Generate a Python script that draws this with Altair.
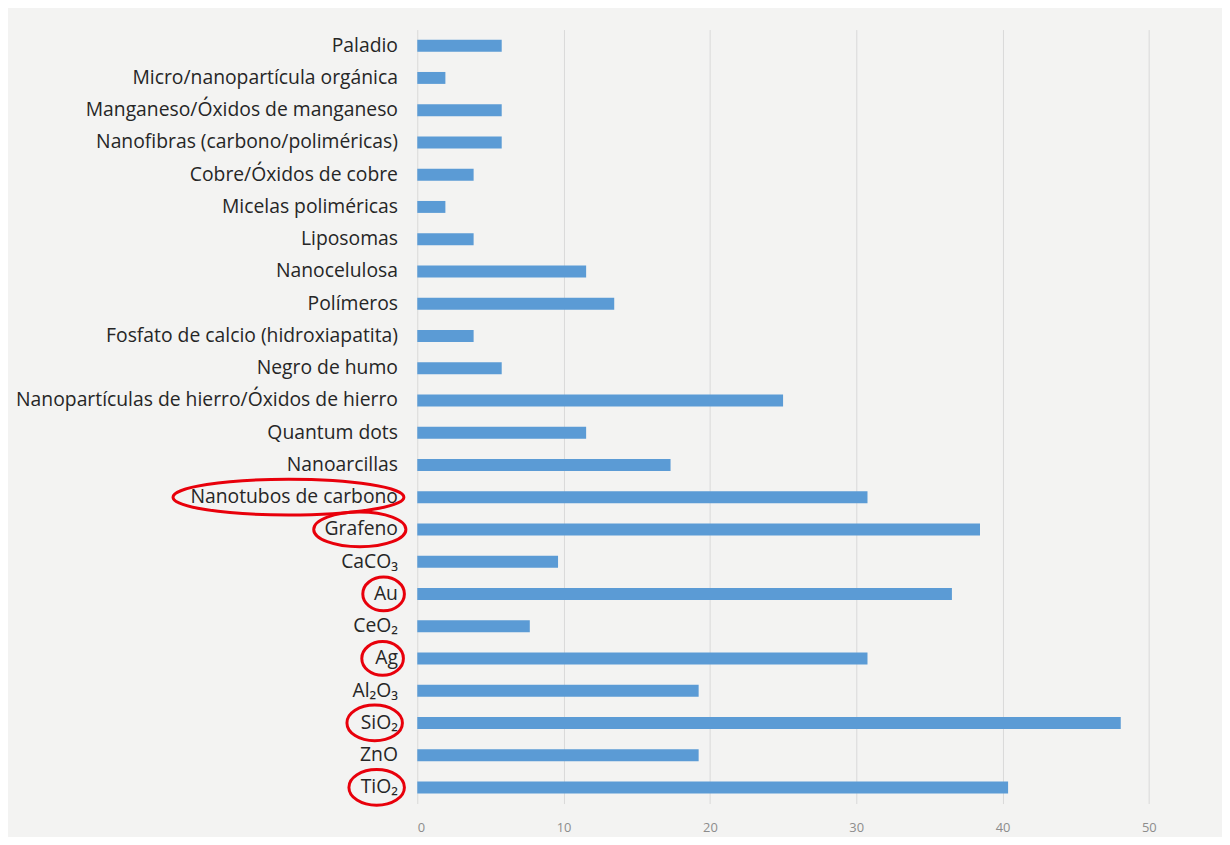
import altair as alt
import pandas as pd

categories = [
    "Paladio",
    "Micro/nanopartícula orgánica",
    "Manganeso/Óxidos de manganeso",
    "Nanofibras (carbono/poliméricas)",
    "Cobre/Óxidos de cobre",
    "Micelas poliméricas",
    "Liposomas",
    "Nanocelulosa",
    "Polímeros",
    "Fosfato de calcio (hidroxiapatita)",
    "Negro de humo",
    "Nanopartículas de hierro/Óxidos de hierro",
    "Quantum dots",
    "Nanoarcillas",
    "Nanotubos de carbono",
    "Grafeno",
    "CaCO₃",
    "Au",
    "CeO₂",
    "Ag",
    "Al₂O₃",
    "SiO₂",
    "ZnO",
    "TiO₂",
]
values = [5.77, 1.92, 5.77, 5.77, 3.85, 1.92, 3.85, 11.54, 13.46, 3.85, 5.77, 25.0,
          11.54, 17.31, 30.77, 38.46, 9.62, 36.54, 7.69, 30.77, 19.23, 48.08, 19.23, 40.38]

# highlighted labels (red ellipses drawn around them)
highlighted = ["Nanotubos de carbono", "Grafeno", "Au", "Ag", "SiO₂", "TiO₂"]
ell_center = [-130, -58, -34, -35, -43, -41]   # px relative to axis start
ell_w = [233, 93, 42, 42, 56, 56]
ell_h = [36, 35, 34, 34, 36, 36]

df = pd.DataFrame({"cat": categories, "val": values})

S = 120.0  # px per path unit (size = (2*S)^2)
paths = []
for w, h in zip(ell_w, ell_h):
    rx = w / 2 / S
    ry = h / 2 / S
    paths.append(f"M{-rx:.4f},0 A{rx:.4f},{ry:.4f} 0 1,0 {rx:.4f},0 A{rx:.4f},{ry:.4f} 0 1,0 {-rx:.4f},0 Z")
ell = pd.DataFrame({"cat": highlighted, "ex": ell_center, "shape": paths})

yscale = alt.Scale(domain=categories, paddingInner=0.63, paddingOuter=0.315)

bars = alt.Chart(df).mark_bar(color="#5b9bd5").encode(
    y=alt.Y("cat:N", sort=None, scale=yscale,
            axis=alt.Axis(title=None, ticks=False, domain=False, grid=False,
                          labelFont="Open Sans", labelFontSize=19.5, labelColor="#262626",
                          labelPadding=20, labelLimit=500)),
    x=alt.X("val:Q", scale=alt.Scale(domain=[0, 55], nice=False),
            axis=alt.Axis(title=None, values=[0, 10, 20, 30, 40, 50], ticks=False,
                          domain=False, grid=True, gridColor="#d9d9d9", gridWidth=1,
                          labelFont="Open Sans", labelFontSize=13, labelColor="#8c8c8c",
                          labelPadding=18)),
)

ellipses = alt.Chart(ell).mark_point(filled=False, stroke="#e8000b", strokeWidth=3,
                                     size=(2 * S) ** 2, opacity=1).encode(
    y=alt.Y("cat:N", sort=None, scale=yscale),
    x=alt.X("ex:Q", scale=None),
    shape=alt.Shape("shape:N", scale=None, legend=None),
)

chart = alt.layer(bars, ellipses).properties(
    width=812, height=781,
    background="#f3f3f2",
    autosize=alt.AutoSizeParams(type="none"),
    padding={"left": 413, "top": 18, "right": 0, "bottom": 30},
).configure_view(stroke=None)

chart.save("out.html", embed_options={"renderer": "svg", "actions": False})
